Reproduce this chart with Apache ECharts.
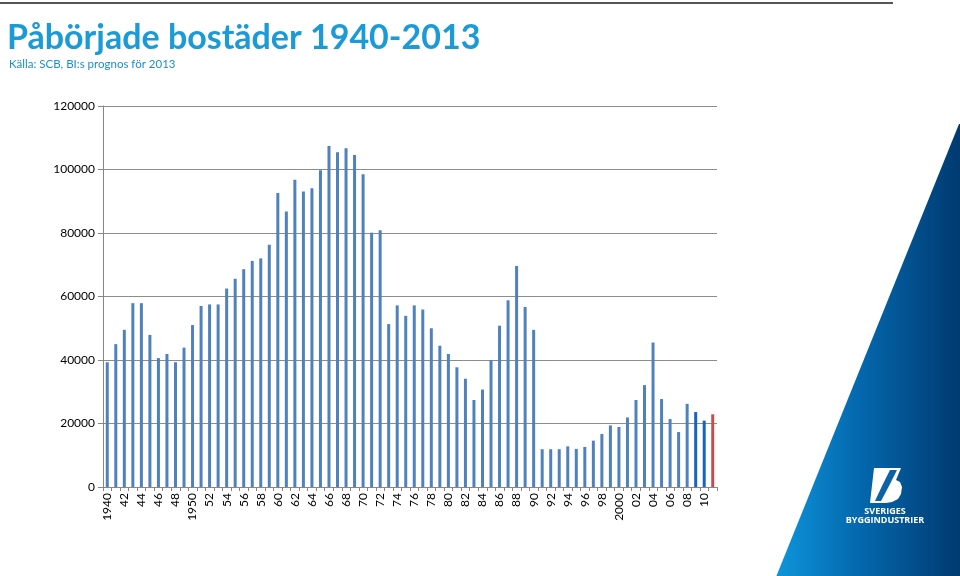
<!DOCTYPE html>
<html>
<head>
<meta charset="utf-8">
<script src="https://cdn.jsdelivr.net/npm/echarts@6/dist/echarts.min.js"></script>
<style>html,body{margin:0;padding:0;background:#fff}#c{width:960px;height:576px}</style>
</head>
<body>
<div id="c"></div>
<script>
const years = [1940,1941,1942,1943,1944,1945,1946,1947,1948,1949,1950,1951,1952,1953,1954,1955,1956,1957,1958,1959,1960,1961,1962,1963,1964,1965,1966,1967,1968,1969,1970,1971,1972,1973,1974,1975,1976,1977,1978,1979,1980,1981,1982,1983,1984,1985,1986,1987,1988,1989,1990,1991,1992,1993,1994,1995,1996,1997,1998,1999,2000,2001,2002,2003,2004,2005,2006,2007,2008,2009,2010,2011];
const started = [39300,45000,49500,57900,57900,47900,40600,41900,39300,43900,51000,57000,57500,57500,62500,65600,68600,71200,72000,76300,92600,86800,96800,93100,94100,99800,107400,105400,106700,104600,98500,80100,80900,51300,57200,53900,57200,55900,50000,44500,41900,37700,34100,27400,30700,40000,50800,58800,69600,56700,49500,11900,11900,11900,12800,12000,12600,14600,16700,19400,18900,21900,27400,32100,45500,27700,21400,17300,26200,23600,20900,22900];
const yTicks = [0,20000,40000,60000,80000,100000,120000];
const fullLabelYears = [1940,1950,2000];
const darkYears = [2009,2010];
const forecastYears = [2011];

const chart = echarts.init(document.getElementById('c'));
const barData = started.map((v,i)=>{
  const y = years[i];
  let color = '#4F81BD';
  if (darkYears.includes(y)) color = '#1565C0';
  if (forecastYears.includes(y)) color = '#C0504D';
  return {value: v, itemStyle: {color}};
});
const bx = 870, by = 468;
const bShape = [[4,0],[31,0],[26,12],[30,14],[32,19],[31,26],[28,31],[22,34],[16,35],[0,35]].map(p=>[bx+p[0],by+p[1]]);
const bSlash = [[12,18],[20,2],[27,2],[19,18],[11,33],[5,33]].map(p=>[bx+p[0],by+p[1]]);
chart.setOption({
  animation:false,
  grid:{left:103,right:243,top:106,bottom:89},
  title:[
    {text:'Påbörjade bostäder 1940-2013',left:2,top:16,textStyle:{fontFamily:'Lato',fontWeight:'bold',fontSize:34,color:'#1B9AD8'}},
    {text:'Källa: SCB, BI:s prognos för 2013',left:4,top:53,textStyle:{fontFamily:'Lato',fontWeight:'normal',fontSize:11.5,color:'#1B8FC8'}}
  ],
  xAxis:{type:'category',data:years.map(String),boundaryGap:true,
    axisLine:{lineStyle:{color:'#868686'}},
    axisTick:{show:true,interval:0,length:4,lineStyle:{color:'#868686'}},
    axisLabel:{interval:1,rotate:90,color:'#000',fontFamily:'Lato',fontSize:12,margin:6,
      formatter:v=>fullLabelYears.includes(+v)?v:v.slice(2)}},
  yAxis:{type:'value',min:yTicks[0],max:yTicks[yTicks.length-1],interval:20000,
    axisLine:{show:true,lineStyle:{color:'#868686'}},
    axisTick:{show:true,length:5,lineStyle:{color:'#868686'}},
    splitLine:{lineStyle:{color:'#8C8C8C',width:1}},
    axisLabel:{color:'#000',fontFamily:'Lato',fontSize:12,margin:8,formatter:v=>String(v)}},
  series:[{type:'bar',data:barData,barWidth:3}],
  graphic:[
    {type:'line',shape:{x1:0,y1:3,x2:893,y2:3},style:{stroke:'#555',lineWidth:2},z:10},
    {type:'polygon',shape:{points:[[776,577],[959,124],[960,124],[960,577]]},
      style:{fill:new echarts.graphic.LinearGradient(0,0,1,0,[{offset:0,color:'#0E95DA'},{offset:0.45,color:'#0468AE'},{offset:1,color:'#003A70'}])},z:1},
    {type:'polygon',shape:{points:bShape},style:{fill:'#fff'},z:5},
    {type:'polygon',shape:{points:bSlash},style:{fill:'#0B62A6'},z:6},
    {type:'text',x:885,y:507,style:{text:'SVERIGES',fill:'#fff',font:'bold 9px "Open Sans"',textAlign:'center'},z:6},
    {type:'text',x:885,y:516,style:{text:'BYGGINDUSTRIER',fill:'#fff',font:'bold 9px "Open Sans"',textAlign:'center'},z:6}
  ]
});
</script>
</body>
</html>
